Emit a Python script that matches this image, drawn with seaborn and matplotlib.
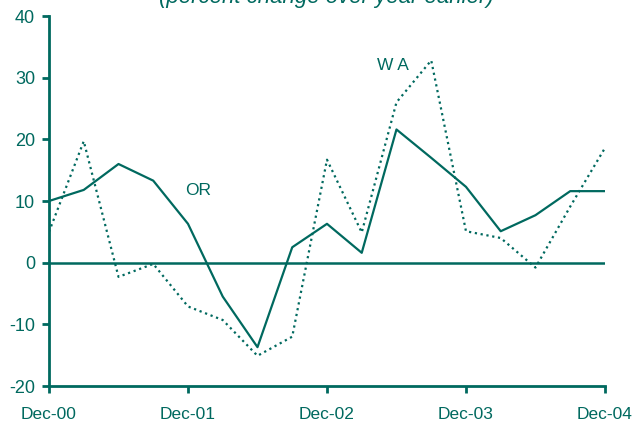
import numpy as np
import pandas as pd
import matplotlib
matplotlib.use("Agg")
import matplotlib.pyplot as plt
import seaborn as sns

# quarterly, Dec-00 .. Dec-04
quarter = list(range(17))
oregon = [10.0, 11.8, 16.0, 13.3, 6.3, -5.5, -13.7, 2.5, 6.3, 1.6, 21.6, 17.0, 12.3, 5.1, 7.7, 11.6, 11.6]
washington = [5.0, 19.7, -2.3, -0.2, -7.1, -9.3, -15.1, -12.0, 16.7, 4.9, 26.0, 32.8, 5.1, 4.0, -0.8, 9.1, 18.6]
tick_pos = [0, 4, 8, 12, 16]
tick_labels = ["Dec-00", "Dec-01", "Dec-02", "Dec-03", "Dec-04"]

teal = "#00695f"

sns.set_style("white")
plt.rcParams["font.family"] = ["Liberation Sans", "DejaVu Sans"]
plt.rcParams["axes.unicode_minus"] = False

df = pd.DataFrame({"q": quarter, "OR": oregon, "WA": washington})

fig = plt.figure(figsize=(6.34, 4.28), dpi=100)
ax = fig.add_axes([0.0773, 0.0981, 0.8769, 0.8645])

sns.lineplot(data=df, x="q", y="WA", ax=ax, color=teal, linestyle=":", linewidth=1.6)
sns.lineplot(data=df, x="q", y="OR", ax=ax, color=teal, linewidth=1.6)
ax.axhline(0, color=teal, linewidth=1.8)

ax.set_xlim(0, 16)
ax.set_ylim(-20, 40)
ax.set_xticks(tick_pos)
ax.set_xticklabels(tick_labels)
ax.set_yticks(range(-20, 41, 10))
ax.set_xlabel("")
ax.set_ylabel("")

for s in ["top", "right"]:
    ax.spines[s].set_visible(False)
for s in ["left", "bottom"]:
    ax.spines[s].set_color(teal)
    ax.spines[s].set_linewidth(2)
    ax.spines[s].set_clip_on(False)

ax.tick_params(axis="both", colors=teal, labelcolor=teal,
               length=5, width=2, direction="out", left=True, bottom=True)
ax.tick_params(axis="y", labelsize=13, pad=5)
ax.tick_params(axis="x", labelsize=12.5, pad=10)

ax.text(3.92, 11.0, "OR", color=teal, fontsize=12.5)
ax.text(9.45, 31.3, "W A", color=teal, fontsize=12.5)

fig.text(0.515, 0.981, "(percent change over year earlier)", color=teal,
         fontsize=16, style="italic", ha="center", va="bottom")

fig.savefig("out.png", dpi=100)
